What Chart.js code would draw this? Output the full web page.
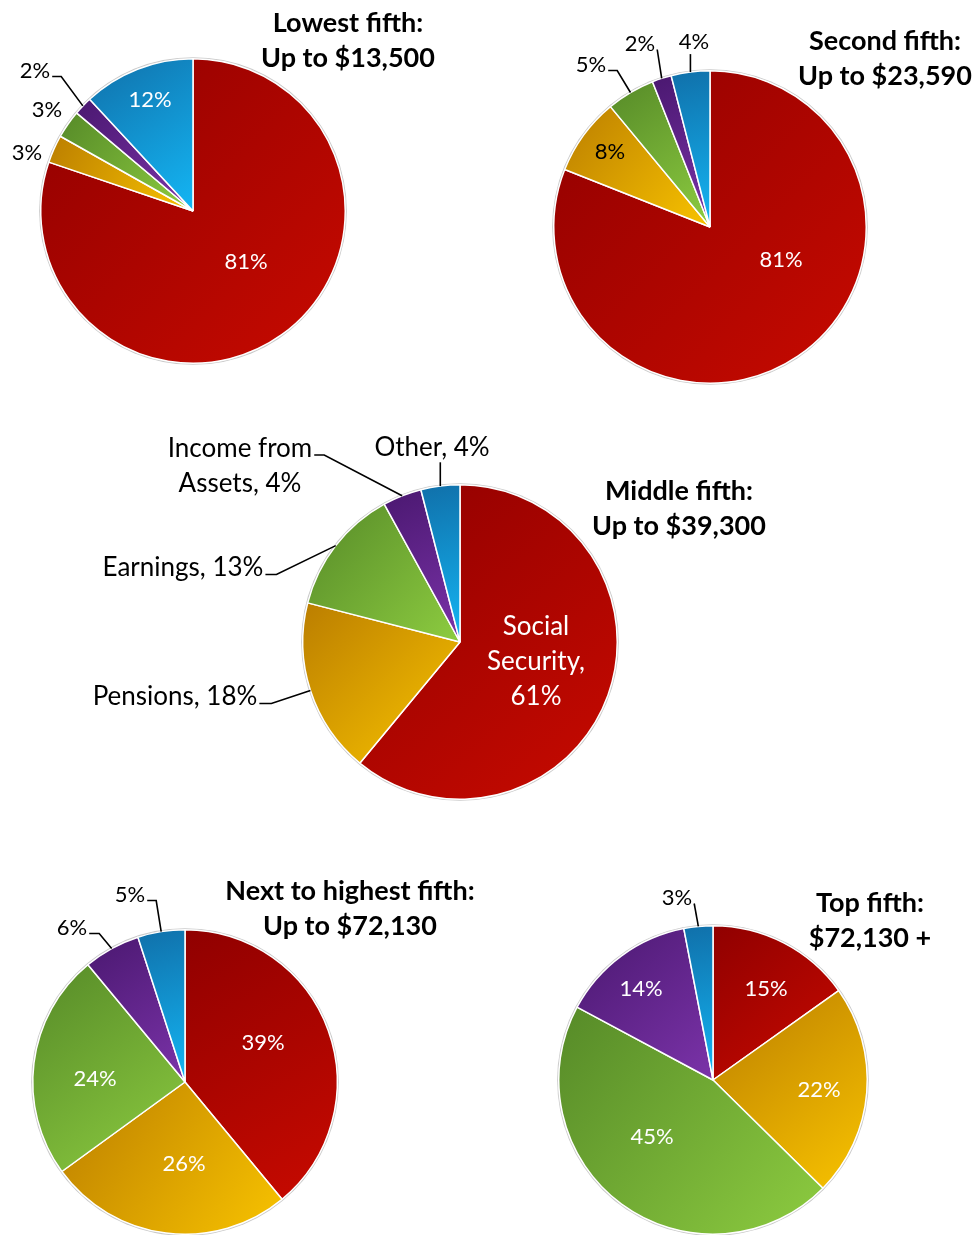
<!DOCTYPE html>
<html><head><meta charset="utf-8">
<script src="https://cdn.jsdelivr.net/npm/chart.js@4.4.1/dist/chart.umd.min.js"></script>
<style>
html,body{margin:0;padding:0;background:#fff;}
#wrap{position:relative;width:973px;height:1235px;overflow:hidden;font-family:Lato,sans-serif;}
#wrap canvas{position:absolute;left:0;top:0;}
.title{position:absolute;font-family:Lato,sans-serif;font-weight:700;font-size:27px;line-height:35px;text-align:center;color:#000;white-space:nowrap;transform:translateX(-50%);}
</style></head><body>
<div id="wrap"></div>
<script>
// ---- data ----
const categories = ['Social Security', 'Pensions', 'Earnings', 'Income from Assets', 'Other'];
const lowestFifth = [81, 3, 3, 2, 12];
const secondFifth = [81, 8, 5, 2, 4];
const middleFifth = [61, 18, 13, 4, 4];
const nextToHighestFifth = [39, 26, 24, 6, 5];
const topFifth = [15, 22, 45, 14, 3];
const titleLines = [
  ['Lowest fifth:', 'Up to $13,500'],
  ['Second fifth:', 'Up to $23,590'],
  ['Middle fifth:', 'Up to $39,300'],
  ['Next to highest fifth:', 'Up to $72,130'],
  ['Top fifth:', '$72,130 +']
];
const seriesList = [lowestFifth, secondFifth, middleFifth, nextToHighestFifth, topFifth];

// ---- styles / layout ----
const W = 973, H = 1235;
const gradColors = [
  ['#900000', '#c80a00'],
  ['#bb7e00', '#f8c300'],
  ['#568a28', '#8dcc40'],
  ['#4a1870', '#7b33a9'],
  ['#1070aa', '#14b6f4']
];
const layouts = [
  {cx:193, cy:211, r:152, font:22, named:false, title:{x:348, y:4}, labels:[
    {dx:53, dy:51, inside:true}, {dx:-166, dy:-58}, {dx:-146, dy:-101},
    {dx:-158, dy:-140, leader:'side', tick:9}, {dx:-43, dy:-111, inside:true}]},
  {cx:710, cy:227, r:156, font:22, named:false, title:{x:885, y:22}, labels:[
    {dx:71, dy:33, inside:true}, {dx:-100, dy:-75, inside:true, color:'#000'},
    {dx:-119, dy:-162, leader:'side', tick:9}, {dx:-70, dy:-183, leader:'side', tick:0},
    {dx:-16, dy:-185, leader:'below'}]},
  {cx:460, cy:642, r:157, font:26, named:true, title:{x:679, y:472}, labels:[
    {dx:76, dy:20, inside:true, wrap:[1,1,1]}, {dx:-285, dy:55, leader:'side', tick:12},
    {dx:-277, dy:-74, leader:'side', tick:11}, {dx:-220, dy:-176, leader:'side', tick:10, wrap:[2,2]},
    {dx:-28, dy:-194, leader:'below'}]},
  {cx:185, cy:1082, r:152, font:22, named:false, title:{x:350, y:872}, labels:[
    {dx:78, dy:-39, inside:true}, {dx:-1, dy:82, inside:true}, {dx:-90, dy:-3, inside:true},
    {dx:-113, dy:-154, leader:'side', tick:10}, {dx:-55, dy:-187, leader:'side', tick:9}]},
  {cx:713, cy:1080, r:154, font:22, named:false, title:{x:870, y:884}, labels:[
    {dx:53, dy:-91, inside:true}, {dx:106, dy:10, inside:true}, {dx:-61, dy:57, inside:true},
    {dx:-72, dy:-91, inside:true}, {dx:-36, dy:-182, leader:'side', tick:0}]}
];

function sectorBox(el) {
  const p = el.getProps(['x','y','startAngle','endAngle','outerRadius'], true);
  const pts = [[p.x, p.y],
    [p.x + p.outerRadius*Math.cos(p.startAngle), p.y + p.outerRadius*Math.sin(p.startAngle)],
    [p.x + p.outerRadius*Math.cos(p.endAngle), p.y + p.outerRadius*Math.sin(p.endAngle)]];
  for (let k = -4; k <= 8; k++) {
    const a = k*Math.PI/2;
    if (a > p.startAngle && a < p.endAngle) pts.push([p.x + p.outerRadius*Math.cos(a), p.y + p.outerRadius*Math.sin(a)]);
  }
  const xs = pts.map(q=>q[0]), ys = pts.map(q=>q[1]);
  return {x0:Math.min(...xs), y0:Math.min(...ys), x1:Math.max(...xs), y1:Math.max(...ys)};
}

const piePlugin = {
  id: 'piePlugin',
  beforeDatasetsDraw(chart) {
    const ctx = chart.ctx;
    const meta = chart.getDatasetMeta(0);
    const el0 = meta.data[0];
    const p = el0.getProps(['x','y','outerRadius'], true);
    ctx.save();
    ctx.beginPath();
    ctx.arc(p.x, p.y, p.outerRadius + 1.6, 0, Math.PI*2);
    ctx.fillStyle = '#c9c9c9';
    ctx.fill();
    ctx.restore();
    meta.data.forEach((el, i) => {
      const b = sectorBox(el);
      const g = ctx.createLinearGradient(b.x0, b.y0, b.x1, b.y1);
      g.addColorStop(0, gradColors[i][0]);
      g.addColorStop(1, gradColors[i][1]);
      el.options.backgroundColor = g;
    });
  },
  afterDatasetsDraw(chart) {
    const ctx = chart.ctx;
    const lay = chart.options.plugins.piePlugin.layout;
    const values = chart.data.datasets[0].data;
    const meta = chart.getDatasetMeta(0);
    const fs = lay.font;
    const lh = 35;
    ctx.save();
    ctx.font = fs + 'px Lato, sans-serif';
    ctx.textAlign = 'center';
    ctx.textBaseline = 'middle';
    meta.data.forEach((el, i) => {
      const spec = lay.labels[i];
      const p = el.getProps(['x','y','startAngle','endAngle','outerRadius'], true);
      let text = lay.named ? (chart.data.labels[i] + ', ' + values[i] + '%') : (values[i] + '%');
      let lines = [text];
      if (spec.wrap) {
        const words = text.split(' ');
        lines = []; let k = 0;
        spec.wrap.forEach(n => { lines.push(words.slice(k, k+n).join(' ')); k += n; });
      }
      const tx = p.x + spec.dx, ty = p.y + spec.dy;
      const y0 = ty - (lines.length - 1) * lh / 2;
      ctx.fillStyle = spec.color || (spec.inside ? '#ffffff' : '#000000');
      lines.forEach((ln, j) => ctx.fillText(ln, tx, y0 + j*lh));
      if (spec.leader) {
        const mid = (p.startAngle + p.endAngle) / 2;
        const ex = p.x + p.outerRadius*Math.cos(mid), ey = p.y + p.outerRadius*Math.sin(mid);
        ctx.strokeStyle = '#000';
        ctx.lineWidth = 1.6;
        ctx.beginPath();
        if (spec.leader === 'side') {
          const w = ctx.measureText(lines[0]).width;
          const sx = tx + w/2 + 2, sy = y0 + fs*0.25;
          ctx.moveTo(sx, sy);
          ctx.lineTo(sx + spec.tick, sy);
          ctx.lineTo(ex, ey);
        } else {
          const by = y0 + (lines.length-1)*lh + fs*0.55;
          ctx.moveTo(ex, by);
          ctx.lineTo(ex, ey);
        }
        ctx.stroke();
      }
    });
    ctx.restore();
  }
};

const wrap = document.getElementById('wrap');
seriesList.forEach((series, idx) => {
  const lay = layouts[idx];
  const cv = document.createElement('canvas');
  cv.width = W; cv.height = H;
  cv.style.width = W + 'px'; cv.style.height = H + 'px';
  wrap.appendChild(cv);
  const t = document.createElement('div');
  t.className = 'title';
  t.style.left = lay.title.x + 'px';
  t.style.top = lay.title.y + 'px';
  t.innerHTML = titleLines[idx].join('<br>');
  wrap.appendChild(t);
  new Chart(cv, {
    type: 'pie',
    data: {
      labels: categories,
      datasets: [{
        data: series,
        backgroundColor: gradColors.map(c => c[1]),
        borderColor: '#ffffff',
        borderWidth: 1.5
      }]
    },
    options: {
      responsive: false,
      animation: false,
      events: [],
      layout: {padding: {
        left: lay.cx - lay.r - 1, top: lay.cy - lay.r - 1,
        right: W - (lay.cx + lay.r + 1), bottom: H - (lay.cy + lay.r + 1)}},
      plugins: {
        legend: {display: false},
        tooltip: {enabled: false},
        title: {display: false},
        piePlugin: {layout: lay}
      }
    },
    plugins: [piePlugin]
  });
});
</script>
</body></html>
